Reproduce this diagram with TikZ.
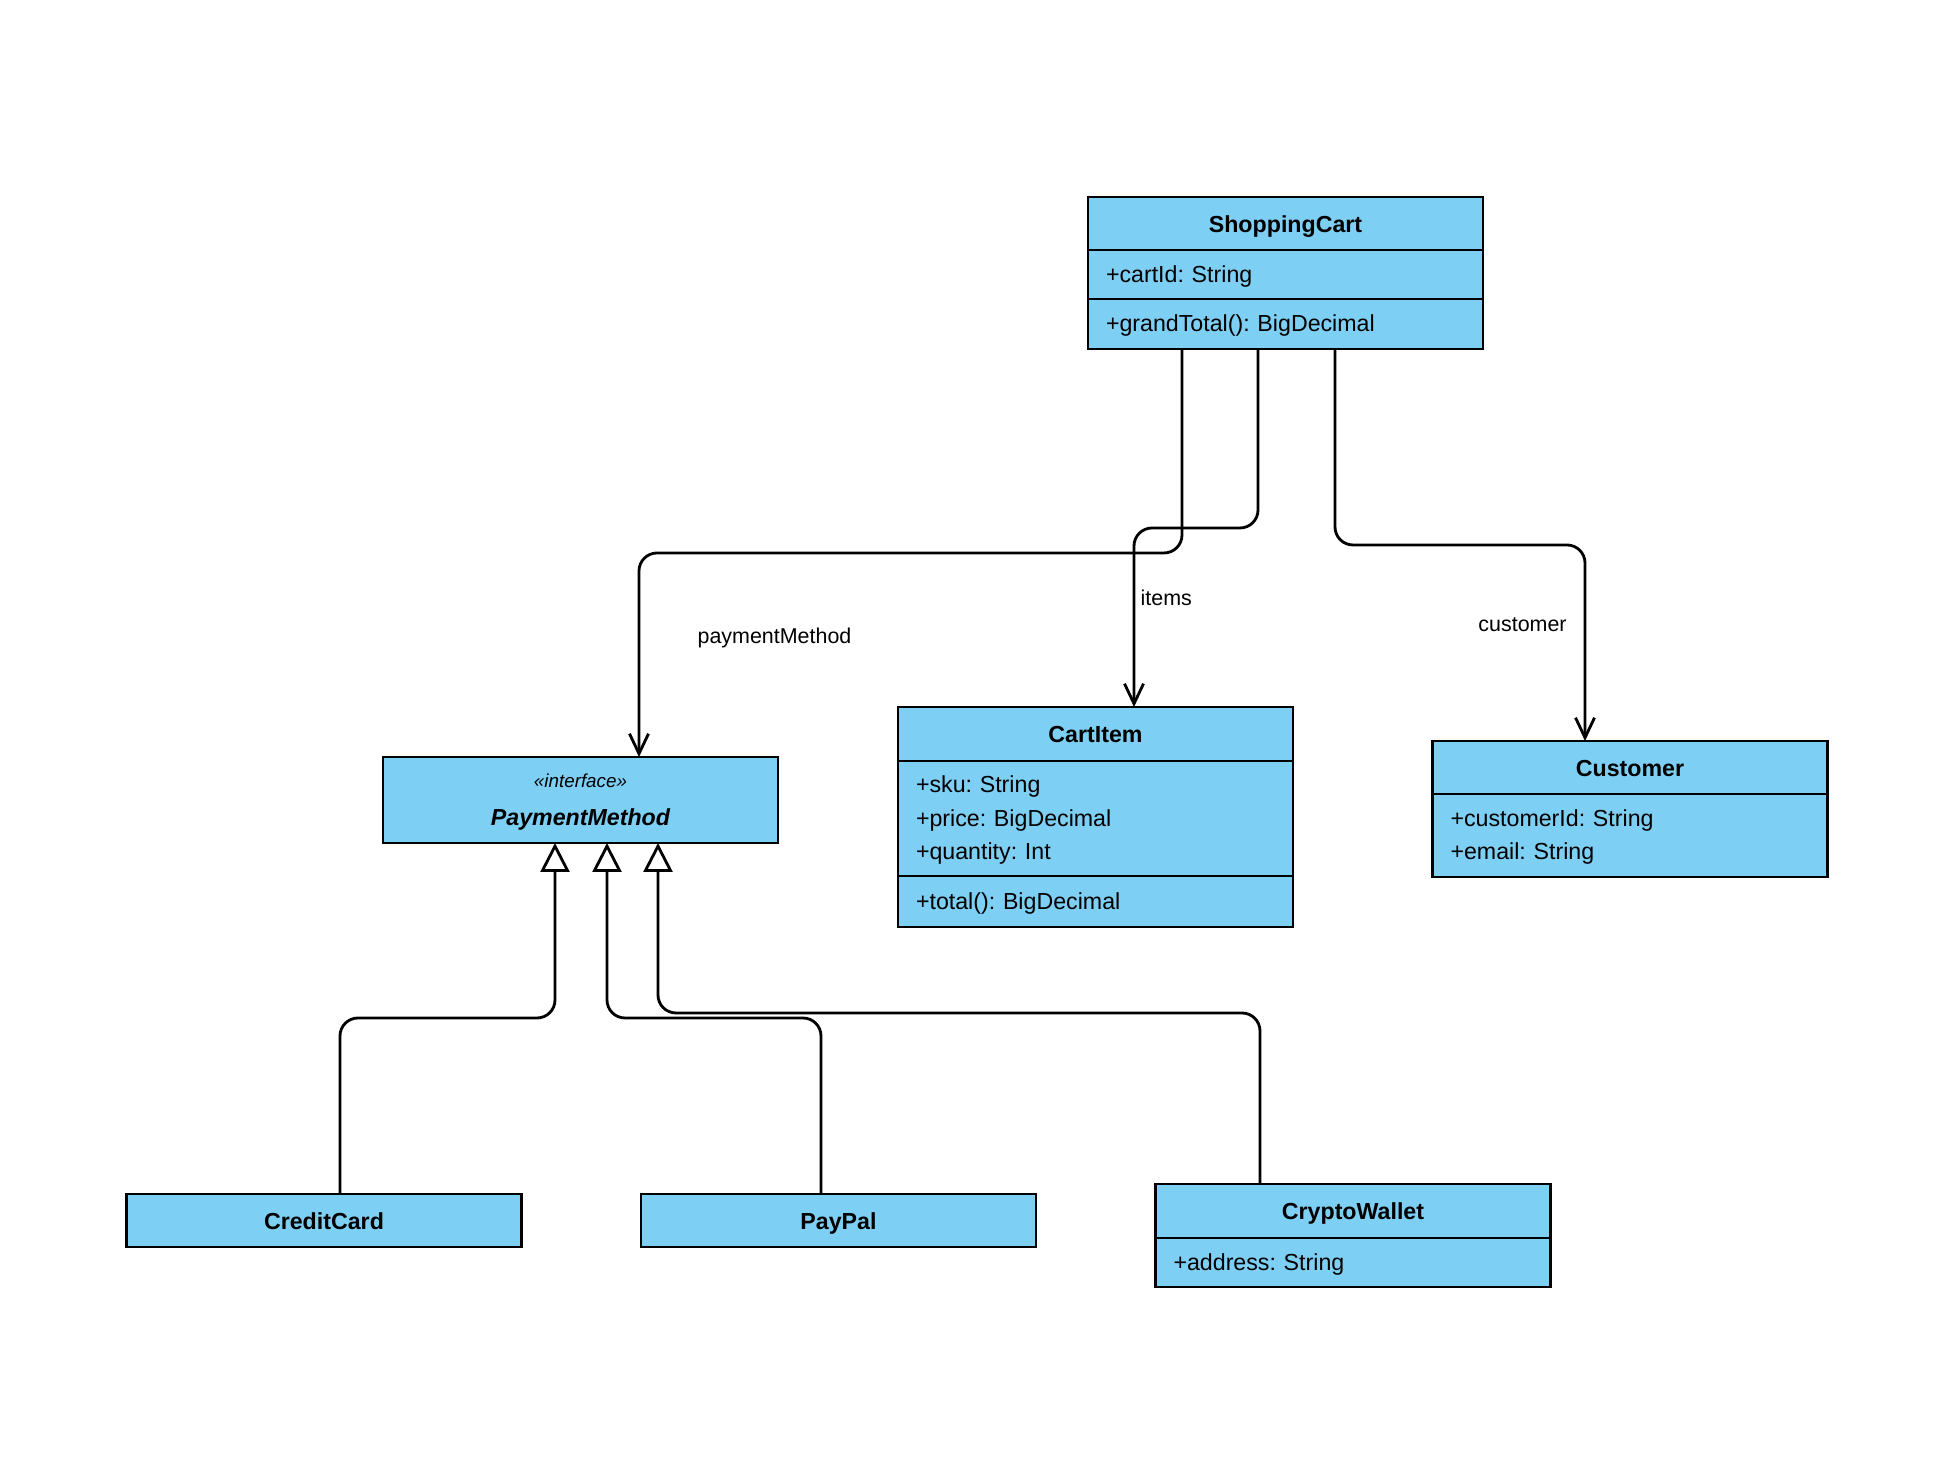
\documentclass[tikz,border=0pt]{standalone}
\usepackage{fontspec}
\setmainfont{Liberation Sans}
\usepackage{tikz}
\usepackage{xcolor}
\usetikzlibrary{positioning}
\usetikzlibrary{arrows.meta}

\definecolor{classblue}{RGB}{126,207,244}

\tikzset{
  strutted/.style={execute at begin node={\rule{0pt}{#1}}, execute at end node={\rule[-0.21em]{0pt}{0pt}}},
  classhead/.style={draw, line width=0.7pt, fill=classblue, outer sep=0pt, inner ysep=1pt, anchor=north, strutted=0.95em,
    minimum width=3.95cm, minimum height=0.53cm, font=\fontsize{6.6}{9.8}\selectfont\bfseries},
  classbody/.style={draw, line width=0.7pt, fill=classblue, outer sep=0pt, inner ysep=1pt, minimum width=3.95cm, strutted=0.86em,
    text width=3.59cm, inner xsep=0.18cm, align=left, font=\fontsize{6.6}{9.6}\selectfont},
  assoc/.style={line width=0.8pt, rounded corners=0.18cm, -{Straight Barb[length=0.2cm,width=0.19cm]}},
  realize/.style={line width=0.8pt, rounded corners=0.18cm, -{Triangle[open,fill=white,length=0.29cm,width=0.29cm]}},
  lbl/.style={font=\fontsize{6.1}{7}\selectfont}
}

\begin{document}
\frenchspacing
\begin{tikzpicture}
\path[fill=white] (0,0) rectangle (19.54,14.84);

\node[classhead] (cart) at (12.855,12.87) {ShoppingCart};
\node[classbody, minimum height=0.49cm, below=0pt of cart] (cartattr) {+cartId: String};
\node[classbody, minimum height=0.50cm, below=0pt of cartattr] (cartops) {+grandTotal(): BigDecimal};

\node[classhead, minimum height=0.54cm] (item) at (10.955,7.77) {CartItem};
\node[classbody, minimum height=1.15cm, below=0pt of item] (itemattr) {+sku: String\\+price: BigDecimal\\+quantity: Int};
\node[classbody, minimum height=0.51cm, below=0pt of itemattr] (itemops) {+total(): BigDecimal};

\node[classhead] (cust) at (16.30,7.43) {Customer};
\node[classbody, minimum height=0.83cm, below=0pt of cust] (custattr) {+customerId: String\\+email: String};

\node[classhead, minimum height=0.86cm, align=center, text depth=0pt, font=\fontsize{6.6}{9.8}\selectfont\bfseries\itshape] (pay) at (5.805,7.27)
  {{\mdseries\fontsize{5.35}{6}\selectfont «interface»}\\[1pt]PaymentMethod};

\node[classhead] (card) at (3.24,2.90) {CreditCard};
\node[classhead] (paypal) at (8.385,2.90) {PayPal};

\node[classhead, minimum height=0.54cm] (wallet) at (13.53,3.00) {CryptoWallet};
\node[classbody, minimum height=0.49cm, below=0pt of wallet] (walletattr) {+address: String};

\draw[assoc] ([xshift=-1.035cm]cartops.south) |- ([xshift=0.585cm,yshift=2.04cm]pay.north) -- ([xshift=0.585cm]pay.north);
\draw[assoc] ([xshift=-0.275cm]cartops.south) |- ([xshift=0.385cm,yshift=1.79cm]item.north) -- ([xshift=0.385cm]item.north);
\draw[assoc] ([xshift=0.495cm]cartops.south) |- ([xshift=-0.45cm,yshift=1.96cm]cust.north) -- ([xshift=-0.45cm]cust.north);

\node[lbl] (pmlabel) at (7.745,8.465) {paymentMethod};
\node[lbl, anchor=west, inner xsep=0pt] (itlabel) at (11.40,8.86) {items};
\node[lbl] (cuslabel) at (15.225,8.59) {customer};

\draw[realize] ([xshift=0.16cm]card.north) |- ([xshift=-0.255cm,yshift=-1.75cm]pay.south) -- ([xshift=-0.255cm]pay.south);
\draw[realize] ([xshift=-0.175cm]paypal.north) |- ([xshift=0.265cm,yshift=-1.75cm]pay.south) -- ([xshift=0.265cm]pay.south);
\draw[realize] ([xshift=-0.93cm]wallet.north) |- ([xshift=0.775cm,yshift=-1.70cm]pay.south) -- ([xshift=0.775cm]pay.south);
\end{tikzpicture}
\end{document}
